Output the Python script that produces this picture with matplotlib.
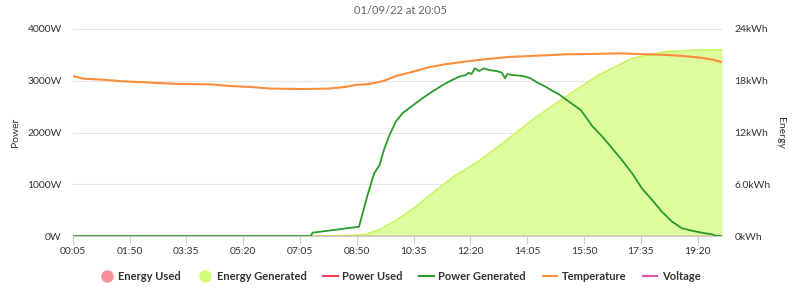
import numpy as np
import matplotlib.pyplot as plt
from matplotlib.lines import Line2D

title = '01/09/22 at 20:05'
tick_labels = ['00:05', '01:50', '03:35', '05:20', '07:05', '08:50',
               '10:35', '12:20', '14:05', '15:50', '17:35', '19:20']

power_times = ['00:05', '07:25', '07:28', '08:54', '08:59', '09:09', '09:22', '09:32',
               '09:40', '09:49', '10:02', '10:14', '10:32', '10:51', '11:09', '11:31',
               '11:46', '11:59', '12:11', '12:17', '12:22', '12:28', '12:36', '12:45',
               '12:54', '13:09', '13:18', '13:24', '13:28', '13:37', '13:53', '14:02',
               '14:11', '14:23', '14:39', '14:51', '15:03', '15:16', '15:31', '15:44',
               '15:53', '16:05', '16:24', '16:42', '17:00', '17:19', '17:37', '17:56',
               '18:14', '18:33', '18:51', '19:10', '19:28', '19:47', '19:53', '20:05']
power_generated = [0, 0, 65, 180, 373, 760, 1211, 1372,
                   1661, 1918, 2208, 2370, 2512, 2660, 2788, 2931,
                   3014, 3078, 3111, 3155, 3130, 3240, 3188, 3240,
                   3207, 3188, 3155, 3047, 3130, 3111, 3098, 3078,
                   3047, 2969, 2885, 2808, 2743, 2641, 2531, 2434,
                   2305, 2125, 1918, 1694, 1468, 1211, 921, 695,
                   470, 276, 149, 102, 64, 33, 6, 0]

energy_times = ['00:05', '07:25', '08:17', '08:54', '09:06', '09:31', '10:02', '10:39',
                '11:16', '11:53', '12:30', '13:06', '14:14', '15:16', '16:17', '17:19',
                '18:21', '19:22', '20:05']
energy_generated = [0, 0, 0.05, 0.12, 0.2, 0.7, 1.8, 3.4,
                    5.3, 7.07, 8.45, 10.1, 13.45, 16.15, 18.67, 20.6,
                    21.37, 21.57, 21.6]

temp_times = ['00:05', '00:25', '01:02', '01:36', '02:16', '03:18', '04:20', '04:53',
              '05:34', '06:10', '07:12', '07:58', '08:29', '08:48', '09:06', '09:25',
              '09:43', '10:02', '10:32', '11:03', '11:34', '12:11', '12:42', '13:31',
              '14:14', '15:16', '16:17', '16:54', '17:19', '18:21', '18:51', '19:22',
              '19:47', '20:05']
temperature = [30.9, 30.4, 30.2, 29.9, 29.7, 29.4, 29.3, 29.0,
               28.8, 28.5, 28.4, 28.5, 28.8, 29.2, 29.3, 29.6,
               30.1, 30.9, 31.7, 32.6, 33.2, 33.7, 34.1, 34.6,
               34.8, 35.1, 35.2, 35.3, 35.2, 35.0, 34.8, 34.5,
               34.1, 33.6]


def to_min(times):
    return np.array([int(t[:2]) * 60 + int(t[3:]) for t in times])


plt.rcParams['font.family'] = ['Lato', 'DejaVu Sans']

fig = plt.figure(figsize=(8, 2.9), dpi=100)
ax = fig.add_axes([0.091, 0.186, 0.8115, 0.714])
ax2 = ax.twinx()
ax3 = ax.twinx()

grid_c = '#e6e6e6'
text_c = '#333333'

# energy (right axis)
et = to_min(energy_times)
ax2.fill_between(et, 0, energy_generated, color='#ddfc9e', lw=0)
ax2.plot(et, energy_generated, color='#c9f55e', lw=1.2)
ax2.plot(et, np.zeros(len(et)), color='#f7a0a8', lw=1)
ax2.set_ylim(0, 24)
ax2.set_yticks([0, 6, 12, 18, 24])
ax2.set_yticklabels(['0kWh', '6.0kWh', '12kWh', '18kWh', '24kWh'])

# temperature on hidden axis
tt = to_min(temp_times)
ax3.plot(tt, temperature, color='#fd8d3c', lw=1.5)
ax3.set_ylim(0, 40)
ax3.set_yticks([])

# power (left axis)
pt = to_min(power_times)
ax.plot(pt, np.zeros(len(pt)), color='#f06b7a', lw=1)
ax.plot(pt, power_generated, color='#2a9a2a', lw=1.3)
ax.set_ylim(0, 4000)
ax.set_yticks([0, 1000, 2000, 3000, 4000])
ax.set_yticklabels(['0W', '1000W', '2000W', '3000W', '4000W'])

ax.set_zorder(ax2.get_zorder() + 1)
ax.patch.set_visible(False)
ax3.set_zorder(ax.get_zorder() + 1)
ax3.patch.set_visible(False)

ax.set_xlim(to_min(['00:05'])[0], to_min(['20:05'])[0])
ax.set_xticks(to_min(tick_labels))
ax.set_xticklabels(tick_labels)

for a in (ax, ax2, ax3):
    for s in a.spines.values():
        s.set_visible(False)
ax.spines['bottom'].set_visible(True)
ax.spines['bottom'].set_color('#cccccc')

ax2.yaxis.grid(True, color=grid_c, lw=0.8)
ax2.set_axisbelow(True)
ax.tick_params(axis='x', length=6, color='#cccccc', labelsize=7.5,
               labelcolor=text_c, pad=2)
ax.tick_params(axis='y', length=0, labelsize=7.5, labelcolor=text_c, pad=8)
ax2.tick_params(axis='y', length=0, labelsize=7.5, labelcolor=text_c, pad=9)

ax.set_ylabel('Power', fontsize=7.5, color=text_c, labelpad=5)
ax2.set_ylabel('Energy', fontsize=7.5, color=text_c, rotation=270, labelpad=10)

fig.text(0.5, 0.965, title, ha='center', va='center', fontsize=8, color='#666666')

handles = [
    Line2D([], [], ls='none', marker='o', ms=8, color='#f7909c'),
    Line2D([], [], ls='none', marker='o', ms=8, color='#d4fc79'),
    Line2D([], [], color='#f03e55', lw=1.5),
    Line2D([], [], color='#2a9a2a', lw=1.5),
    Line2D([], [], color='#fd8d3c', lw=1.5),
    Line2D([], [], color='#e64fae', lw=1.5),
]
labels = ['Energy Used', 'Energy Generated', 'Power Used', 'Power Generated',
          'Temperature', 'Voltage']
fig.legend(handles, labels, loc='center', bbox_to_anchor=(0.5, 0.048), ncol=6,
           frameon=False, handlelength=1.3, handletextpad=0.4, columnspacing=1.5,
           prop={'size': 8, 'weight': 'bold'}, labelcolor=text_c)

fig.savefig('out.png', dpi=100)
